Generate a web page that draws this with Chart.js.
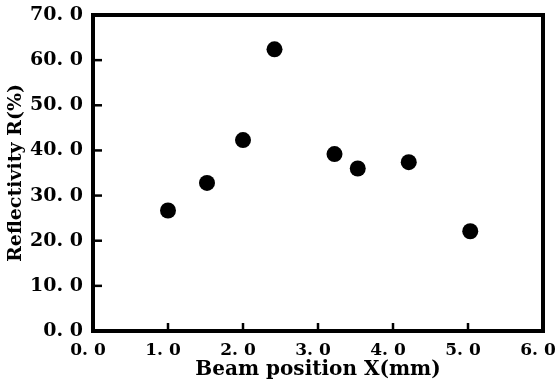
<!DOCTYPE html>
<html>
<head>
<meta charset="utf-8">
<script src="https://cdn.jsdelivr.net/npm/chart.js@4.4.1/dist/chart.umd.min.js"></script>
<style>
  html, body { margin: 0; padding: 0; background: #fff; }
  #wrap { width: 555px; height: 385px; }
</style>
</head>
<body>
<div id="wrap"><canvas id="chart" width="555" height="385"></canvas></div>
<script>
// Data
const beamX = [1.0, 1.52, 2.0, 2.42, 3.22, 3.53, 4.21, 5.03];
const reflectivity = [26.7, 32.8, 42.3, 62.4, 39.2, 36.0, 37.4, 22.1];
const xTicks = [0, 1, 2, 3, 4, 5, 6];
const yTicks = [0, 10, 20, 30, 40, 50, 60, 70];

const fontFamily = "'DejaVu Serif', 'Liberation Serif', serif";
const ink = '#000';

// Format like "70. 0"
const fmt = v => v.toFixed(1).replace('.', '. ');

// Frame around plot + inward ticks
const framePlugin = {
    id: 'frame',
    afterDraw(chart) {
        const { ctx, chartArea: a, scales } = chart;
        ctx.save();
        ctx.strokeStyle = ink;
        ctx.lineWidth = 4;
        ctx.strokeRect(a.left, a.top, a.right - a.left, a.bottom - a.top);
        ctx.lineWidth = 2.5;
        yTicks.forEach(t => {
            const y = scales.y.getPixelForValue(t);
            ctx.beginPath();
            ctx.moveTo(a.left, y);
            ctx.lineTo(a.left + 9, y);
            ctx.stroke();
        });
        xTicks.forEach(t => {
            const x = scales.x.getPixelForValue(t);
            ctx.beginPath();
            ctx.moveTo(x, a.bottom);
            ctx.lineTo(x, a.bottom - 8);
            ctx.stroke();
        });
        ctx.restore();
    }
};

new Chart(document.getElementById('chart'), {
    type: 'scatter',
    data: {
        datasets: [{
            data: beamX.map((x, i) => ({ x: x, y: reflectivity[i] })),
            backgroundColor: ink,
            borderColor: ink,
            pointRadius: 8,
            pointBorderWidth: 0
        }]
    },
    options: {
        responsive: false,
        animation: false,
        layout: { padding: { top: 15, right: 12, left: 5, bottom: 0 } },
        plugins: {
            legend: { display: false },
            tooltip: { enabled: false }
        },
        scales: {
            x: {
                type: 'linear',
                min: 0,
                max: 6,
                afterBuildTicks: s => { s.ticks = xTicks.map(v => ({ value: v })); },
                afterFit: s => { s.height = 54; s.paddingLeft = 0; s.paddingRight = 0; },
                grid: { display: false },
                border: { display: false },
                ticks: {
                    color: ink,
                    padding: 1,
                    labelOffset: -5,
                    maxRotation: 0,
                    font: { family: fontFamily, size: 17, weight: 'bold' },
                    callback: v => fmt(v)
                },
                title: {
                    display: true,
                    text: 'Beam position X(mm)',
                    color: ink,
                    padding: { top: 0, bottom: 3 },
                    font: { family: fontFamily, size: 20, weight: 'bold' }
                }
            },
            y: {
                min: 0,
                max: 70,
                afterBuildTicks: s => { s.ticks = yTicks.map(v => ({ value: v })); },
                afterFit: s => { s.width = 88; },
                grid: { display: false },
                border: { display: false },
                ticks: {
                    color: ink,
                    padding: 2,
                    font: { family: fontFamily, size: 19, weight: 'bold' },
                    callback: v => fmt(v)
                },
                title: {
                    display: true,
                    text: 'Reflectivity R(%)',
                    color: ink,
                    padding: { top: 0, bottom: 0 },
                    font: { family: fontFamily, size: 19, weight: 'bold' }
                }
            }
        }
    },
    plugins: [framePlugin]
});
</script>
</body>
</html>
